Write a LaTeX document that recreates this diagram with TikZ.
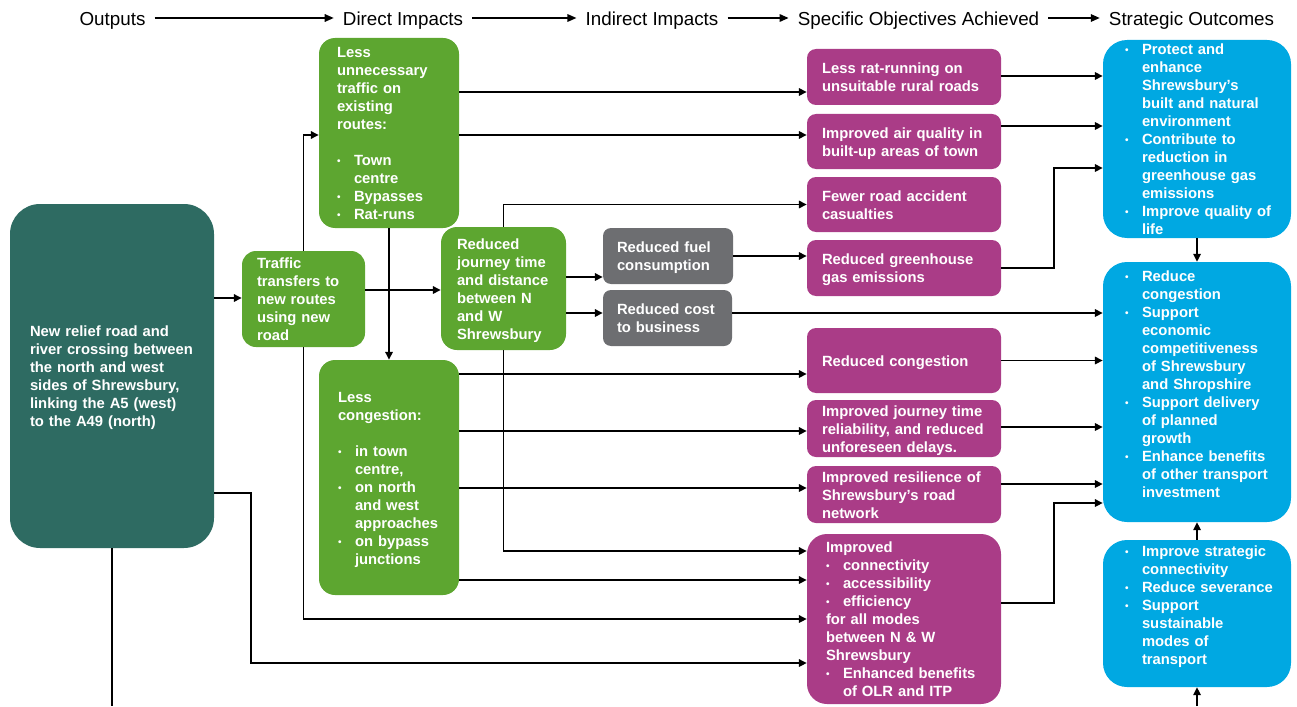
\documentclass[tikz,border=0pt]{standalone}
\usepackage{fontspec}
\setmainfont{Liberation Sans}
\usetikzlibrary{arrows.meta}
\definecolor{tealbox}{RGB}{46,107,98}
\definecolor{greenbox}{RGB}{93,166,48}
\definecolor{greybox}{RGB}{109,110,113}
\definecolor{magbox}{RGB}{170,60,135}
\definecolor{bluebox}{RGB}{0,168,226}
\newlength\bulw \setlength\bulw{17pt}
\newcommand\bl{\makebox[\bulw][l]{\fontsize{10}{10}\selectfont\raisebox{1pt}{•}}}
\newcommand\ind{\hspace*{\bulw}}
\newcommand\tl[1]{\raisebox{-2pt}[\height][\depth]{\begin{tabular}{@{}l@{}}#1\end{tabular}}}
\tikzset{
  bx/.style={draw=none, text=white, font=\fontsize{14.8}{18}\selectfont\bfseries, inner ysep=0pt, align=left},
  hdr/.style={font=\fontsize{18.8}{20}\selectfont, inner xsep=9pt, inner ysep=2pt, text height=14pt, text depth=4pt},
  arr/.style={line width=1.6pt, -{Triangle[length=8pt,width=7.5pt]}},
  harr/.style={line width=1.6pt, -{Triangle[length=9pt,width=7.5pt]}},
  ln/.style={line width=1.6pt},
}
\begin{document}
\begin{tikzpicture}[x=1pt,y=-1pt]
\useasboundingbox (0,0) rectangle (1297,706);

% headers
\node[hdr, anchor=base] (h1) at (112.5,26) {Outputs};
\node[hdr, anchor=base] (h2) at (403,26) {Direct Impacts};
\node[hdr, anchor=base] (h3) at (652,26) {Indirect Impacts};
\node[hdr, anchor=base] (h4) at (918.5,26) {Specific Objectives Achieved};
\node[hdr, anchor=base] (h5) at (1191.5,26) {Strategic Outcomes};
\draw[harr] (h1.east |- 0,18) -- (h2.west |- 0,18);
\draw[harr] (h2.east |- 0,18) -- (h3.west |- 0,18);
\draw[harr] (h3.east |- 0,18) -- (h4.west |- 0,18);
\draw[harr] (h4.east |- 0,18) -- (h5.west |- 0,18);

% output
\node[bx, fill=tealbox, rounded corners=30pt, minimum width=204pt, minimum height=344pt, inner xsep=20pt, text width=164pt] (teal) at (112,376)
 {\tl{New relief road and\\river crossing between\\the north and west\\sides of Shrewsbury,\\linking the A5 (west)\\to the A49 (north)}};

% direct impacts
\node[bx, fill=greenbox, rounded corners=14pt, minimum width=123pt, minimum height=96pt, inner xsep=15pt, text width=93pt] (tt) at (303.5,299)
 {\tl{Traffic\\transfers to\\new routes\\using new\\road}};
\node[bx, fill=greenbox, rounded corners=16pt, minimum width=140pt, minimum height=190pt, inner xsep=18pt, text width=104pt] (lu) at (389,133)
 {\tl{Less\\unnecessary\\traffic on\\existing\\routes:\\[18pt]\bl Town\\\ind centre\\\bl Bypasses\\\bl Rat-runs}};
\node[bx, fill=greenbox, rounded corners=16pt, minimum width=125pt, minimum height=123pt, inner xsep=16pt, text width=93pt] (rj) at (503.5,288.5)
 {\tl{Reduced\\journey time\\and distance\\between N\\and W\\Shrewsbury}};
\node[bx, fill=greenbox, rounded corners=16pt, minimum width=140pt, minimum height=235pt, inner xsep=19pt, text width=102pt] (lc) at (389,477.5)
 {\tl{Less\\congestion:\\[18pt]\bl in town\\\ind centre,\\\bl on north\\\ind and west\\\ind approaches\\\bl on bypass\\\ind junctions}};

% indirect impacts
\node[bx, fill=greybox, rounded corners=8pt, minimum width=130pt, minimum height=56pt, inner xsep=14pt, text width=102pt] (gf) at (668,256)
 {\tl{Reduced fuel\\consumption}};
\node[bx, fill=greybox, rounded corners=8pt, minimum width=129pt, minimum height=56pt, inner xsep=14pt, text width=101pt] (gc) at (667.5,318)
 {\tl{Reduced cost\\to business}};

% specific objectives
\tikzset{mg/.style={bx, fill=magbox, rounded corners=9pt, minimum width=194pt, inner xsep=15pt, text width=164pt}}
\node[mg, minimum height=56pt] (ma) at (904,77) {\tl{Less rat-running on\\unsuitable rural roads}};
\node[mg, minimum height=55pt] (mb) at (904,141.5) {\tl{Improved air quality in\\built-up areas of town}};
\node[mg, minimum height=55pt] (mc) at (904,204.5) {\tl{Fewer road accident\\casualties}};
\node[mg, minimum height=56pt] (md) at (904,268) {\tl{Reduced greenhouse\\gas emissions}};
\node[mg, minimum height=65pt] (me) at (904,360.5) {\tl{Reduced congestion}};
\node[mg, minimum height=57pt] (mf) at (904,428.5) {\tl{Improved journey time\\reliability, and reduced\\unforeseen delays.}};
\node[mg, minimum height=57pt] (mgn) at (904,494.5) {\tl{Improved resilience of\\Shrewsbury’s road\\network}};
\node[bx, fill=magbox, rounded corners=20pt, minimum width=194pt, minimum height=170pt, inner xsep=19pt, text width=156pt] (mh) at (904,619)
 {\tl{Improved\\\bl connectivity\\\bl accessibility\\\bl efficiency\\for all modes\\between N \& W\\Shrewsbury\\\bl Enhanced benefits\\\ind of OLR and ITP}};

% strategic outcomes
\tikzset{bl/.style={bx, fill=bluebox, rounded corners=24pt, minimum width=188pt, inner xsep=22pt, text width=144pt}}
\node[bl, minimum height=198pt] (bA) at (1197,139)
 {\tl{\bl Protect and\\\ind enhance\\\ind Shrewsbury’s\\\ind built and natural\\\ind environment\\\bl Contribute to\\\ind reduction in\\\ind greenhouse gas\\\ind emissions\\\bl Improve quality of\\\ind life}};
\node[bl, minimum height=260pt] (bB) at (1197,392)
 {\tl{\bl Reduce\\\ind congestion\\\bl Support\\\ind economic\\\ind competitiveness\\\ind of Shrewsbury\\\ind and Shropshire\\\bl Support delivery\\\ind of planned\\\ind growth\\\bl Enhance benefits\\\ind of other transport\\\ind investment\\[-2pt]\mbox{}}};
\node[bl, minimum height=147pt] (bC) at (1197,613.5)
 {\tl{\bl Improve strategic\\\ind connectivity\\\bl Reduce severance\\\bl Support\\\ind sustainable\\\ind modes of\\\ind transport\\[-1pt]\mbox{}}};

\coordinate (offb) at (112,706);
\coordinate (offc) at (1197,706);

% connectors
\draw[ln] (teal.south) -- (offb);
\draw[arr] (teal.east |- 0,298) -- (tt.west |- 0,298);
\draw[arr] (teal.east |- 0,493) -- (251,493) |- (mh.west |- 0,663);
\draw[arr] (tt.north) |- (lu.west |- 0,135);
\draw[arr] (tt.south) |- (mh.west |- 0,619);
\draw[arr] (tt.east |- 0,290) -- (rj.west |- 0,290);
\draw[arr] (lu.south) -- (lc.north);
\draw[arr] (lu.east |- 0,92) -- (ma.west |- 0,92);
\draw[arr] (lu.east |- 0,135) -- (mb.west |- 0,135);
\draw[arr] (rj.north) |- (mc.west);
\draw[arr] (rj.east |- 0,277) -- (gf.west |- 0,277);
\draw[arr] (rj.east |- 0,313) -- (gc.west |- 0,313);
\draw[arr] (rj.south) |- (mh.west |- 0,551);
\draw[arr] (gf.east) -- (md.west |- gf.east);
\draw[arr] (gc.east |- 0,313) -- (bB.west |- 0,313);
\draw[arr] (lc.east |- 0,374) -- (me.west |- 0,374);
\draw[arr] (lc.east |- 0,431) -- (mf.west |- 0,431);
\draw[arr] (lc.east |- 0,488) -- (mgn.west |- 0,488);
\draw[arr] (lc.east |- 0,580) -- (mh.west |- 0,580);
\draw[arr] (ma.east |- 0,76) -- (bA.west |- 0,76);
\draw[arr] (mb.east |- 0,126) -- (bA.west |- 0,126);
\draw[arr] (md.east) -- ++(53,0) |- (bA.west |- 0,168);
\draw[arr] (me.east) -- (bB.west |- me.east);
\draw[arr] (mf.east |- 0,427) -- (bB.west |- 0,427);
\draw[arr] (mgn.east |- 0,484) -- (bB.west |- 0,484);
\draw[arr] (mh.east |- 0,603) -- ++(53,0) |- (bB.west |- 0,503);
\draw[arr] (bA.south) -- (bB.north);
\draw[arr] (bC.north) -- (bB.south);
\draw[arr] (offc) -- (bC.south);
\end{tikzpicture}
\end{document}
